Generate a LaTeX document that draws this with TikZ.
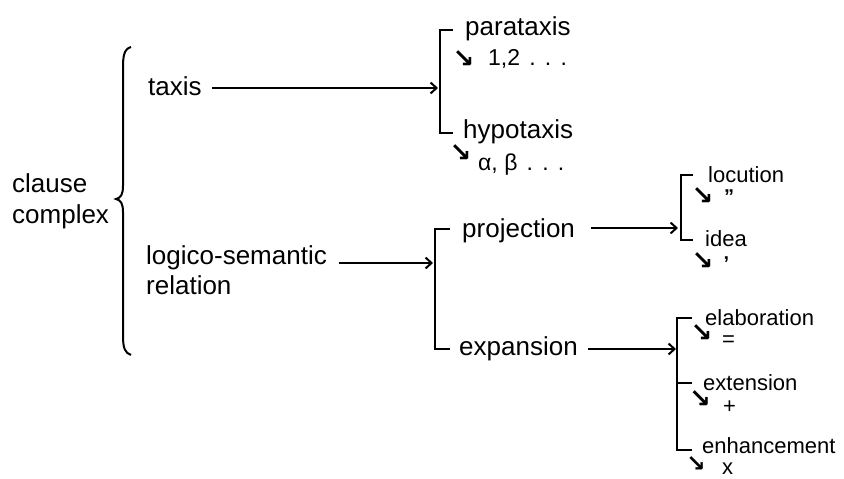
\documentclass[tikz,border=0pt]{standalone}
\usepackage{fontspec}
\setmainfont{Liberation Sans}
\newfontfamily\symfont{DejaVu Sans}
\usetikzlibrary{arrows.meta}
\begin{document}
\begin{tikzpicture}[x=1pt,y=-1pt,
  big/.style={inner sep=0pt, anchor=base west, font=\fontsize{26}{30}\selectfont},
  small/.style={inner sep=0pt, anchor=base west, font=\fontsize{22}{26}\selectfont},
  vals/.style={inner sep=0pt, anchor=base west, font=\fontsize{23}{26}\selectfont},
  sym/.style={inner sep=0pt, font=\fontsize{22}{26}\selectfont},
  quo/.style={inner sep=0pt, anchor=base, font=\bfseries\fontsize{20}{22}\selectfont},
  darr/.style={inner sep=0pt, font=\symfont\bfseries\fontsize{26}{28}\selectfont},
  conn/.style={line width=2pt, -{Straight Barb[length=6pt,width=11pt]}},
  brk/.style={line width=2pt},
]
\useasboundingbox[fill=white] (0,0) rectangle (844,479);

% left brace
\draw[line width=2pt] (131,47) .. controls (124,49) and (123,56) .. (123,68)
  -- (123,186) .. controls (123,194) and (121,198) .. (116,199)
  .. controls (121,200) and (123,204) .. (123,212)
  -- (123,336) .. controls (123,348) and (125,353) .. (131,355);

% main labels
\node[big] (clause) at (12,192) {clause};
\node[big] (complex) at (12,223) {complex};
\node[big] (taxis) at (148,95) {taxis};
\node[big] (logico) at (146,264) {logico-semantic};
\node[big] (relation) at (146,294) {relation};
\node[big] (para) at (465,35) {parataxis};
\node[big] (hypo) at (463,138) {hypotaxis};
\node[big] (proj) at (462,237) {projection};
\node[big] (expa) at (459,355) {expansion};
\node[small] (locu) at (708,182) {locution};
\node[small] (idea) at (705,246) {idea};
\node[small] (elab) at (705,325) {elaboration};
\node[small] (exte) at (703,390) {extension};
\node[small] (enha) at (702,453) {enhancement};

% small arrows
\node[darr] (a1) at (463.5,59) {↘};
\node[darr] (a2) at (460.5,153.5) {↘};
\node[darr] (a3) at (702.5,196.5) {↘};
\node[darr] (a4) at (702.5,261) {↘};
\node[darr] (a5) at (701.5,333.5) {↘};
\node[darr] (a6) at (700,399.5) {↘};
\node[darr, font=\symfont\bfseries\fontsize{23}{25}\selectfont] (a7) at (696,464) {↘};

% symbols
\node[vals] (v1) at (488,65) {1,2\hspace{0.4em}.\hspace{0.4em}.\hspace{0.4em}.};
\node[vals] (v2) at (478,170) {α, β\hspace{0.4em}.\hspace{0.4em}.\hspace{0.4em}.};
\node[quo] (v3) at (729,203) {"};
\node[quo] (v4) at (726.5,270) {'};
\node[sym] (v5) at (728.5,341) {=};
\node[sym] (v6) at (729.5,407.5) {+};
\node[sym] (v7) at (727.5,469) {x};

% brackets
\draw[brk] (453,30) -- (440,30) -- (440,133) -- (453,133);
\draw[brk] (450,229) -- (435,229) -- (435,349) -- (450,349);
\draw[brk] (693,175) -- (681,175) -- (681,240) -- (693,240);
\draw[brk] (692,318) -- (677,318) -- (677,450) -- (692,450);
\draw[brk] (677,383) -- (692,383);

% connector ends at brackets
\coordinate (b1) at (438,88);
\coordinate (b2) at (433,263);
\coordinate (b3) at (678,228);
\coordinate (b4) at (676,349);

\draw[conn, shorten <=10pt] (taxis.east |- b1) -- (b1);
\draw[conn, shorten <=12pt] (logico.east |- b2) -- (b2);
\draw[conn, shorten <=16pt] (proj.east |- b3) -- (b3);
\draw[conn, shorten <=10pt] (expa.east |- b4) -- (b4);
\end{tikzpicture}
\end{document}
